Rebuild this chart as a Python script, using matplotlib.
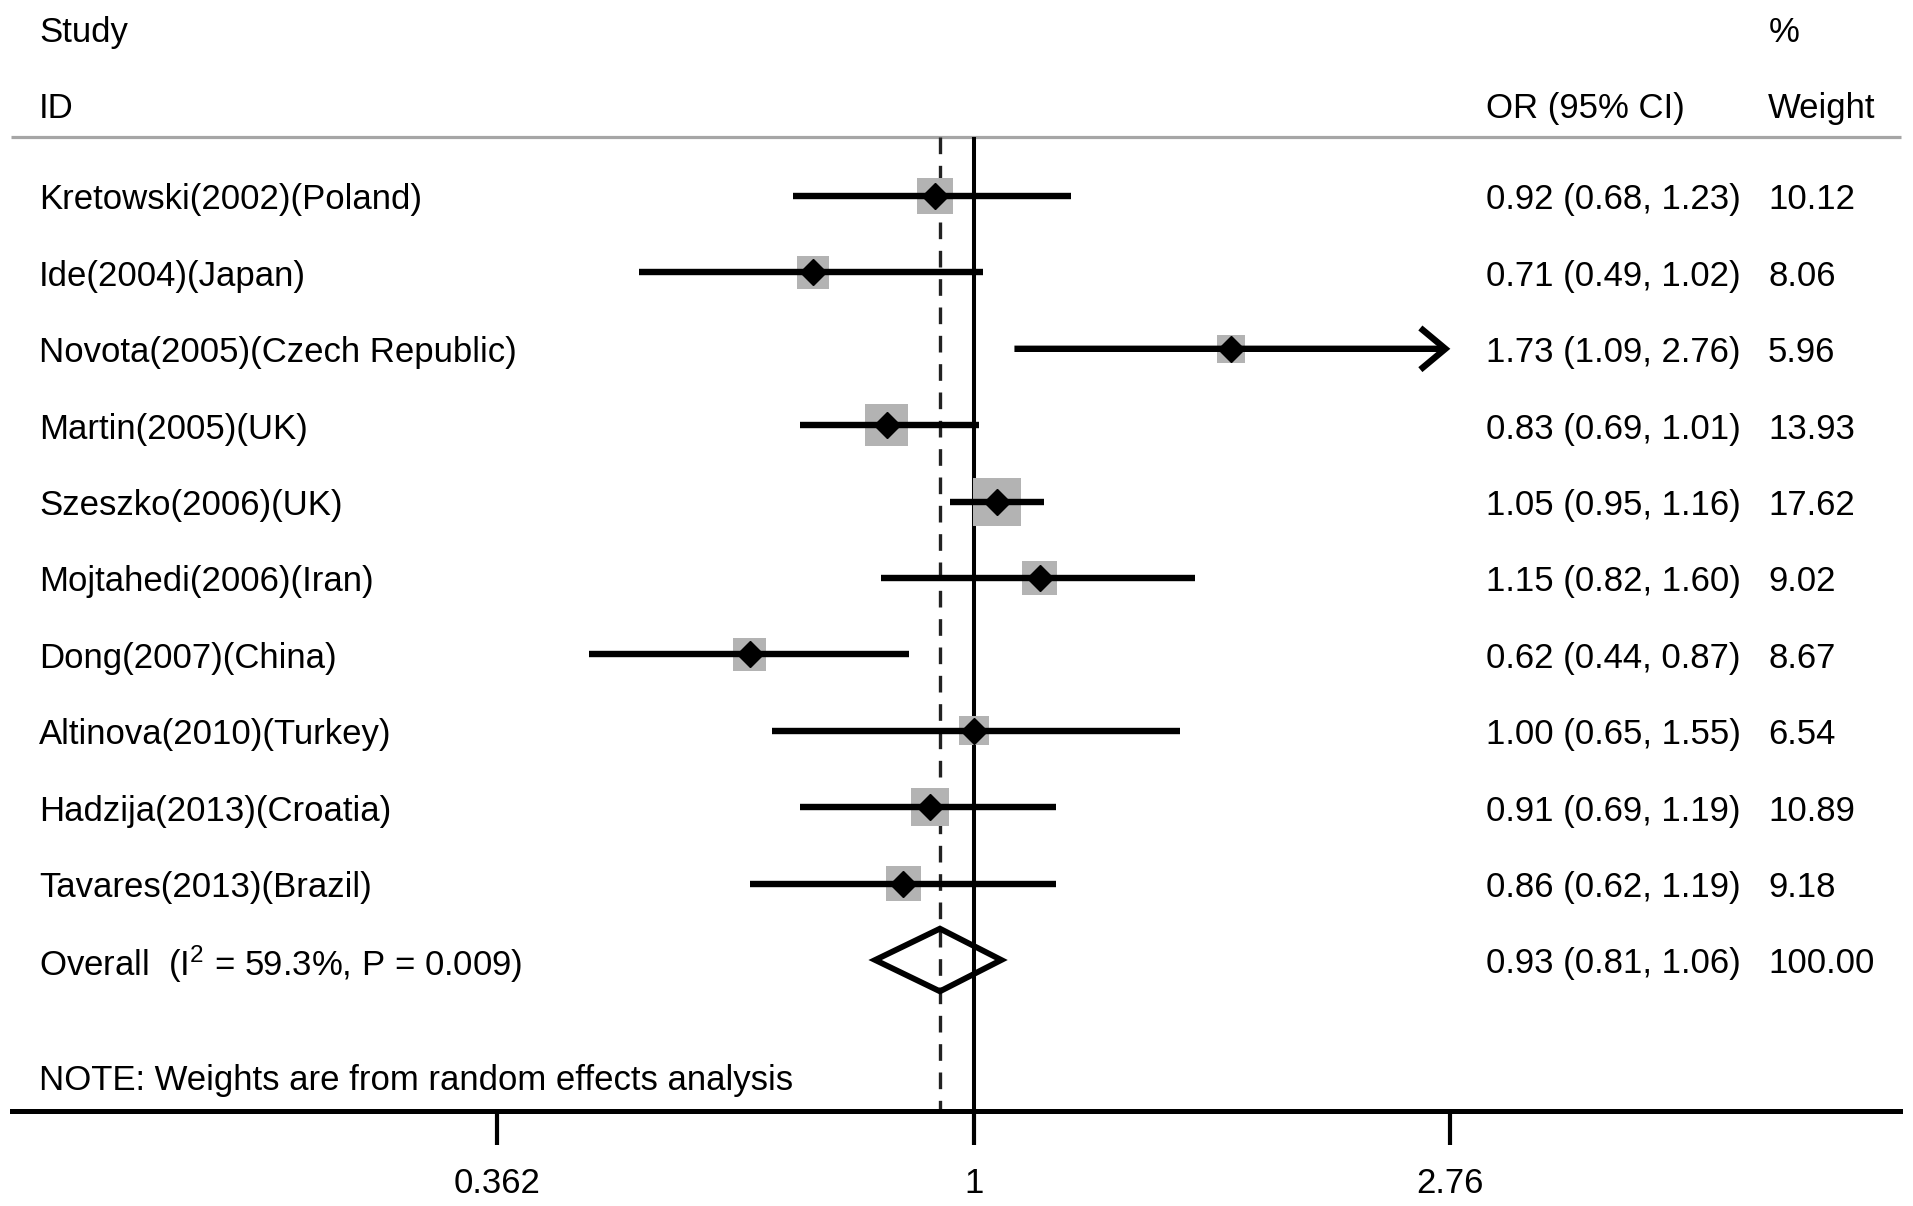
import numpy as np
import matplotlib.pyplot as plt
import matplotlib.transforms as mtransforms
from matplotlib.patches import Polygon, FancyArrowPatch

plt.rcParams['font.family'] = ['Liberation Sans', 'DejaVu Sans']
plt.rcParams['mathtext.fontset'] = 'custom'
plt.rcParams['mathtext.rm'] = 'Liberation Sans'
plt.rcParams['mathtext.it'] = 'Liberation Sans'

# ---- data ----
studies = ['Kretowski(2002)(Poland)', 'Ide(2004)(Japan)', 'Novota(2005)(Czech Republic)',
           'Martin(2005)(UK)', 'Szeszko(2006)(UK)', 'Mojtahedi(2006)(Iran)',
           'Dong(2007)(China)', 'Altinova(2010)(Turkey)', 'Hadzija(2013)(Croatia)',
           'Tavares(2013)(Brazil)']
odds = [0.92, 0.71, 1.73, 0.83, 1.05, 1.15, 0.62, 1.00, 0.91, 0.86]
ci_low = [0.68, 0.49, 1.09, 0.69, 0.95, 0.82, 0.44, 0.65, 0.69, 0.62]
ci_high = [1.23, 1.02, 2.76, 1.01, 1.16, 1.60, 0.87, 1.55, 1.19, 1.19]
weights = [10.12, 8.06, 5.96, 13.93, 17.62, 9.02, 8.67, 6.54, 10.89, 9.18]

overall_label = 'Overall  (I$^{2}$ = 59.3%, P = 0.009)'
overall_or = 0.93
overall_low = 0.81
overall_high = 1.06
overall_weight = 100.00

x_ticks = [0.362, 1, 2.76]
x_ticklabels = ['0.362', '1', '2.76']
note = 'NOTE: Weights are from random effects analysis'

# ---- layout ----
W, H = 1913, 1206
row_px = 76.4      # spacing between rows in pixels
row0_px = 196      # centre of first study row
axis_px = 1111     # y of the bottom axis line
left_px, right_px = 12, 1900
one_px, px_per_log = 974, 469.2

fig = plt.figure(figsize=(W / 100, H / 100), dpi=100)
ax = fig.add_axes([left_px / W, 1 - axis_px / H, (right_px - left_px) / W, axis_px / H])
ax.set_xscale('log')
ax.set_xlim(np.exp((left_px - one_px) / px_per_log), np.exp((right_px - one_px) / px_per_log))
y_bot = (axis_px - row0_px) / row_px
y_top = -row0_px / row_px
ax.set_ylim(y_bot, y_top)

for s in ['top', 'left', 'right']:
    ax.spines[s].set_visible(False)
ax.spines['bottom'].set_linewidth(3.6)
ax.set_yticks([])
ax.set_xticks(x_ticks)
ax.set_xticklabels(x_ticklabels)
ax.xaxis.set_minor_locator(plt.NullLocator())
ax.tick_params(axis='x', direction='out', length=24.5, width=3.0, pad=16, labelsize=25)

tr = mtransforms.blended_transform_factory(ax.transAxes, ax.transData)
def fx(px):
    return (px - left_px) / (right_px - left_px)

fs = 25
dy = 0.05          # text sits a touch below the marker centre
sep_y = -0.77
head_y = -1.19
head2_y = -2.19

# header
ax.text(fx(39), head2_y + dy, 'Study', transform=tr, fontsize=fs, va='center')
ax.text(fx(39), head_y + dy, 'ID', transform=tr, fontsize=fs, va='center')
ax.text(fx(1486), head_y + dy, 'OR (95% CI)', transform=tr, fontsize=fs, va='center')
ax.text(fx(1769), head2_y + dy, '%', transform=tr, fontsize=fs, va='center')
ax.text(fx(1768), head_y + dy, 'Weight', transform=tr, fontsize=fs, va='center')
ax.plot([fx(11), fx(1901)], [sep_y, sep_y], transform=tr, color='#a6a6a6', lw=2.3,
        solid_capstyle='butt', clip_on=False)

# reference lines
ax.vlines(1, sep_y, y_bot, color='black', lw=2.9, zorder=2)
ax.vlines(overall_or, sep_y, y_bot, color='#222222', lw=2.4, linestyles=(0, (5, 3.5)), zorder=2)

rows = np.arange(len(studies))
sides = 11.4 * np.sqrt(np.array(weights)) * 0.72
ax.scatter(odds, rows, s=sides ** 2, marker='s', color='#b3b3b3', zorder=3, linewidths=0)

for i in rows:
    if ci_high[i] >= x_ticks[-1]:
        arr = FancyArrowPatch((ci_low[i], i), (ci_high[i], i), arrowstyle='->,head_length=18,head_width=15',
                              mutation_scale=1, lw=4.6, color='black', shrinkA=0, shrinkB=0,
                              capstyle='butt', joinstyle='miter', zorder=4)
        ax.add_patch(arr)
    else:
        ax.plot([ci_low[i], ci_high[i]], [i, i], color='black', lw=4.6,
                solid_capstyle='butt', zorder=4)
    ax.text(fx(39), i + dy, studies[i], transform=tr, fontsize=fs, va='center')
    ax.text(fx(1486), i + dy, f'{odds[i]:.2f} ({ci_low[i]:.2f}, {ci_high[i]:.2f})',
            transform=tr, fontsize=fs, va='center')
    ax.text(fx(1768), i + dy, f'{weights[i]:.2f}', transform=tr, fontsize=fs, va='center')

ax.plot(odds, rows, linestyle='none', marker='D', markersize=13, color='black', zorder=5)

# overall
k = len(studies)
h = 0.41
dia = Polygon([[overall_low, k], [overall_or, k - h], [overall_high, k], [overall_or, k + h]],
              closed=True, fill=False, edgecolor='black', lw=4.2, joinstyle='miter', zorder=5)
ax.add_patch(dia)
ax.text(fx(39), k + dy, overall_label, transform=tr, fontsize=fs, va='center')
ax.text(fx(1486), k + dy, f'{overall_or:.2f} ({overall_low:.2f}, {overall_high:.2f})',
        transform=tr, fontsize=fs, va='center')
ax.text(fx(1768), k + dy, f'{overall_weight:.2f}', transform=tr, fontsize=fs, va='center')

ax.text(fx(39), 11.53 + dy, note, transform=tr, fontsize=fs, va='center')

fig.savefig('out.png', dpi=100)
